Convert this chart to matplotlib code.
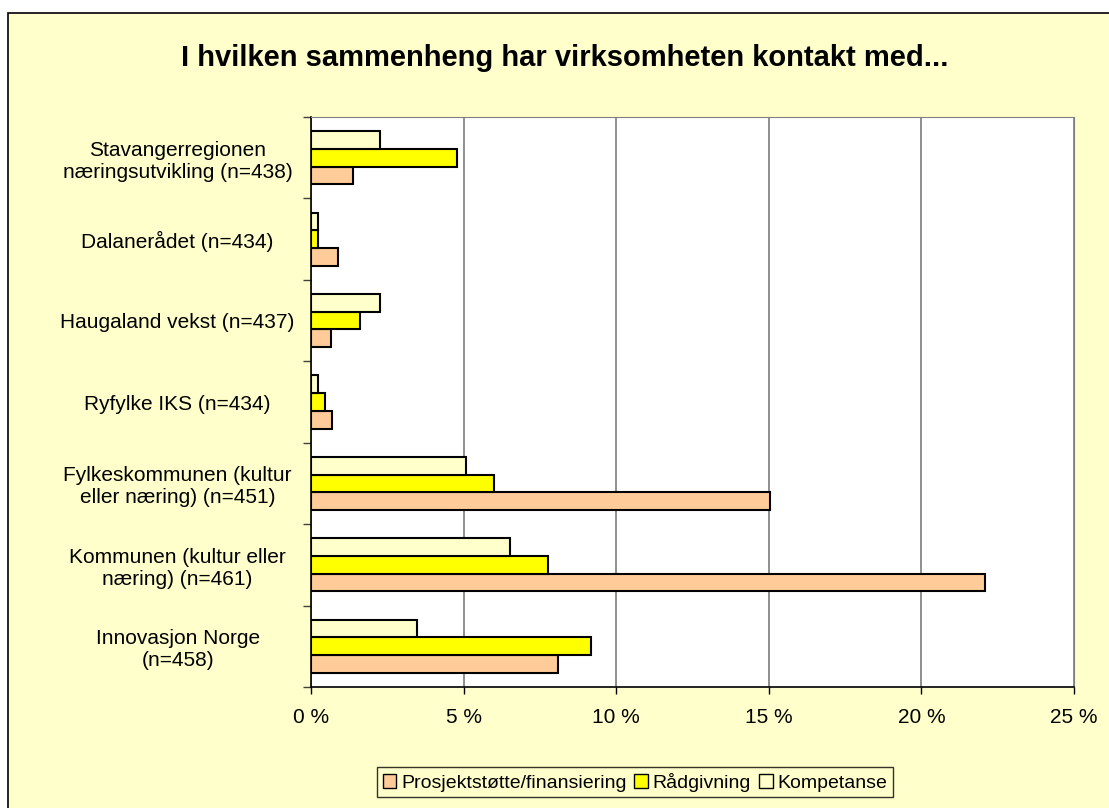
import matplotlib.pyplot as plt
import matplotlib.patches as patches
import numpy as np

plt.rcParams["font.family"] = ["Liberation Sans", "DejaVu Sans"]

# Data (percent)
categories = [
    "Stavangerregionen\nnæringsutvikling (n=438)",
    "Dalanerådet (n=434)",
    "Haugaland vekst (n=437)",
    "Ryfylke IKS (n=434)",
    "Fylkeskommunen (kultur\neller næring) (n=451)",
    "Kommunen (kultur eller\nnæring) (n=461)",
    "Innovasjon Norge\n(n=458)",
]
prosjekt = [1.37, 0.9, 0.65, 0.7, 15.05, 22.1, 8.09]
radgivning = [4.79, 0.22, 1.6, 0.46, 5.99, 7.78, 9.17]
kompetanse = [2.26, 0.22, 2.26, 0.22, 5.08, 6.53, 3.46]
series_names = ["Prosjektstøtte/finansiering", "Rådgivning", "Kompetanse"]
xticks = [0, 5, 10, 15, 20, 25]

bg = "#FFFFCC"
fig = plt.figure(figsize=(11.09, 8.08), dpi=100, facecolor="white")

# chart area frame
frame = patches.Rectangle((8 / 1109, -0.01), 1.2, 1 - 13 / 808 + 0.01,
                          transform=fig.transFigure, facecolor=bg,
                          edgecolor="black", linewidth=1.2, zorder=-10)
fig.patches.append(frame)

ax = fig.add_axes([311 / 1109, 1 - 687 / 808, 763 / 1109, 570 / 808])
ax.set_facecolor("white")

n = len(categories)
y = np.arange(n)[::-1]
h = 0.217
kw = dict(height=h, edgecolor="black", linewidth=1.5, zorder=3)
ax.barh(y - h, prosjekt, color="#FFCC99", label=series_names[0], **kw)
ax.barh(y, radgivning, color="#FFFF00", label=series_names[1], **kw)
ax.barh(y + h, kompetanse, color="#FFFFCC", label=series_names[2], **kw)

ax.set_xlim(0, 25)
ax.set_ylim(-0.5, n - 0.5)
ax.set_xticks(xticks)
ax.set_xticklabels([f"{v} %" for v in xticks], fontsize=15)
ax.xaxis.grid(True, color="#707070", linewidth=1.1, zorder=0)
ax.tick_params(axis="x", length=5, width=1, direction="out", pad=10)

ax.set_yticks(y)
ax.set_yticklabels(categories, fontsize=15, ha="center", multialignment="center",
                   linespacing=1.2)
ax.tick_params(axis="y", which="major", length=0, pad=96)
ax.set_yticks(np.arange(n + 1) - 0.5, minor=True)
ax.tick_params(axis="y", which="minor", length=6, width=1, color="#404040")

for side in ["top", "right"]:
    ax.spines[side].set_color("#808080")
for side in ["left", "bottom"]:
    ax.spines[side].set_color("black")
    ax.spines[side].set_linewidth(1.2)

fig.text(565 / 1109, 1 - 58 / 808, "I hvilken sammenheng har virksomheten kontakt med...",
         ha="center", va="center", fontsize=21, fontweight="bold")

handles, labels = ax.get_legend_handles_labels()
leg = fig.legend(handles, labels, loc="center", bbox_to_anchor=(635 / 1109, 1 - 782 / 808),
                 ncol=3, fontsize=14, frameon=True, fancybox=False, edgecolor="black",
                 facecolor=bg, handlelength=0.7, handleheight=0.7, handletextpad=0.25,
                 columnspacing=0.4, borderpad=0.3, borderaxespad=0.2)
leg.get_frame().set_linewidth(1.0)
for p in leg.get_patches():
    p.set_linewidth(1.0)

fig.savefig("out.png", dpi=100, facecolor=fig.get_facecolor())
